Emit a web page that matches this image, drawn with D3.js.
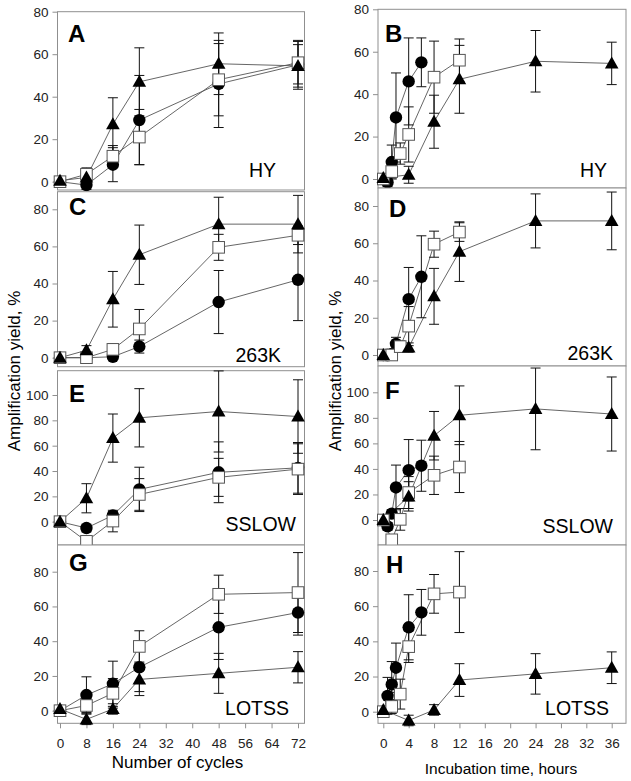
<!DOCTYPE html>
<html><head><meta charset="utf-8">
<script src="https://cdn.jsdelivr.net/npm/d3@7"></script>
<style>body{margin:0;background:#fff}svg{display:block}text{font-family:"Liberation Sans",Arial,sans-serif}</style>
</head><body><svg id="c" width="631" height="781"></svg>
<script>
// ---- data ----
const cycles = [0, 8, 16, 24, 48, 72];
const hoursCircle = [0, 0.67, 1.33, 2, 4, 6];
const hoursSquare = [0, 1.33, 2.67, 4, 8, 12];
const hoursTriangle = [0, 4, 8, 12, 24, 36];
const strainNames = ["HY", "263K", "SSLOW", "LOTSS"];
const leftLetters = ["A", "C", "E", "G"];
const rightLetters = ["B", "D", "F", "H"];

const hyCircle = [0, -1.6, 8, 29, 46, 55];
const hyCircleErr = [1.5, 2, 8, 21, 20.5, 11.5];
const hySquare = [0, 3.5, 12, 21, 48, 56];
const hySquareErr = [1.5, 3, 5, 13, 17, 10];
const hyTriangle = [0.5, 2, 27, 47, 55.5, 54.5];
const hyTriangleErr = [1, 4, 12.5, 16, 14.5, 10];

const k263Circle = [0, 0, 0.5, 6, 30, 42];
const k263CircleErr = [1, 1, 1.5, 3.5, 17, 22];
const k263Square = [0, 0, 4.5, 15.5, 59.5, 66];
const k263SquareErr = [1, 1.5, 3, 10.5, 7, 5];
const k263Triangle = [0, 4, 31.5, 55.5, 72, 72];
const k263TriangleErr = [1, 2.5, 15, 16, 14.5, 15.5];

const sslowCircle = [0, -5, 5, 25.5, 39, 42.5];
const sslowCircleErr = [1.5, 3, 3, 17.5, 24, 20];
const sslowSquare = [0, -15.5, 0.5, 21.5, 35, 41.5];
const sslowSquareErr = [1.5, 4, 8.5, 12.5, 15, 20];
const sslowTriangle = [0, 18.5, 66, 82, 87, 83];
const sslowTriangleErr = [1.5, 11.5, 19, 23, 32, 29];

const lotssCircle = [0, 9, 15.5, 25, 48, 56.5];
const lotssCircleErr = [1, 10.5, 13, 14, 18.5, 13];
const lotssSquare = [0, 3, 10, 37, 67, 68];
const lotssSquareErr = [1, 4, 8.5, 9, 11, 23];
const lotssTriangle = [1, -5, 1, 18, 21.5, 25];
const lotssTriangleErr = [1, 3, 3, 9.3, 11.5, 9];

const cycleTicks = [0, 8, 16, 24, 32, 40, 48, 56, 64, 72];
const hourTicks = [0, 4, 8, 12, 16, 20, 24, 28, 32, 36];
const yTicksRows = [[0, 20, 40, 60, 80], [0, 20, 40, 60, 80], [0, 20, 40, 60, 80, 100], [0, 20, 40, 60, 80]];

const rowData = [
  {c: hyCircle, ce: hyCircleErr, s: hySquare, se: hySquareErr, t: hyTriangle, te: hyTriangleErr},
  {c: k263Circle, ce: k263CircleErr, s: k263Square, se: k263SquareErr, t: k263Triangle, te: k263TriangleErr},
  {c: sslowCircle, ce: sslowCircleErr, s: sslowSquare, se: sslowSquareErr, t: sslowTriangle, te: sslowTriangleErr},
  {c: lotssCircle, ce: lotssCircleErr, s: lotssSquare, se: lotssSquareErr, t: lotssTriangle, te: lotssTriangleErr}
];

// ---- layout ----
const colL = {x0: 57.5, x1: 304.5, dom: [0, 72], rng: [60, 298]};
const colR = {x0: 378, x1: 626, dom: [0, 36], rng: [383.3, 611.7]};
const layout = [
  {L: {top: 11.7, bot: 190, dv: 80, y0: 181.7, yv: 11.7, lx: 68, ly: 41.7, nx: 276, ny: 177},
   R: {top: 9.3, bot: 188, dv: 80, y0: 179, yv: 9.3, lx: 385, ly: 41.7, nx: 607, ny: 177}},
  {L: {top: 191.7, bot: 366.7, dv: 80, y0: 357.7, yv: 209.3, lx: 69, ly: 214.5, nx: 281, ny: 361.7},
   R: {top: 188, bot: 366, dv: 80, y0: 355, yv: 206, lx: 389, ly: 216.7, nx: 613, ny: 360}},
  {L: {top: 370.7, bot: 545, dv: 100, y0: 521.7, yv: 395, lx: 69, ly: 402.3, nx: 296, ny: 530.7},
   R: {top: 366, bot: 545, dv: 100, y0: 520, yv: 392.3, lx: 385, ly: 399.3, nx: 613, ny: 533.3}},
  {L: {top: 545, bot: 723.3, dv: 80, y0: 710.7, yv: 571.7, lx: 69, ly: 571, nx: 289, ny: 715},
   R: {top: 545, bot: 723.3, dv: 80, y0: 711.7, yv: 571, lx: 386, ly: 573.3, nx: 609, ny: 715}}
];

const svg = d3.select("#c");
const frameCol = "#8f8f8f";
const lineCol = "#555";

function drawPanel(row, side) {
  const P = layout[row][side];
  const col = side === "L" ? colL : colR;
  const x = d3.scaleLinear().domain(col.dom).range(col.rng);
  const y = d3.scaleLinear().domain([0, P.dv]).range([P.y0, P.yv]);
  const g = svg.append("g");
  g.append("rect").attr("x", col.x0).attr("y", P.top).attr("width", col.x1 - col.x0).attr("height", P.bot - P.top)
    .attr("fill", "#fff").attr("stroke", frameCol).attr("stroke-width", 1);
  // y axis
  const yAxis = d3.axisLeft(y).tickValues(yTicksRows[row]).tickSize(5).tickPadding(4);
  const ya = g.append("g").attr("transform", `translate(${col.x0},0)`).call(yAxis);
  ya.select(".domain").remove();
  ya.selectAll("line").attr("stroke", frameCol);
  ya.selectAll("text").attr("font-size", 13.5).attr("fill", "#222").style("font-family", '"Liberation Sans",Arial,sans-serif');
  // x axis on bottom row
  if (row === 3) {
    const xAxis = d3.axisBottom(x).tickValues(side === "L" ? cycleTicks : hourTicks).tickSize(5).tickPadding(10);
    const xa = g.append("g").attr("transform", `translate(0,${P.bot})`).call(xAxis);
    xa.select(".domain").remove();
    xa.selectAll("line").attr("stroke", frameCol);
    xa.selectAll("text").attr("font-size", 13.5).attr("fill", "#222").style("font-family", '"Liberation Sans",Arial,sans-serif');
  }
  const D = rowData[row];
  const series = [
    {v: D.c, e: D.ce, xs: side === "L" ? cycles : hoursCircle, shape: "circle"},
    {v: D.s, e: D.se, xs: side === "L" ? cycles : hoursSquare, shape: "square"},
    {v: D.t, e: D.te, xs: side === "L" ? cycles : hoursTriangle, shape: "triangle"}
  ];
  // lines
  series.forEach(s => {
    const pts = s.v.map((v, i) => [s.xs[i], v]);
    g.append("path").datum(pts)
      .attr("d", d3.line().x(d => x(d[0])).y(d => y(d[1])))
      .attr("fill", "none").attr("stroke", lineCol).attr("stroke-width", 0.9);
  });
  // error bars
  series.forEach(s => {
    s.v.forEach((v, i) => {
      const cx = x(s.xs[i]), hi = y(v + s.e[i]), lo = y(v - s.e[i]);
      g.append("line").attr("x1", cx).attr("x2", cx).attr("y1", hi).attr("y2", lo).attr("stroke", "#111").attr("stroke-width", 1);
      [hi, lo].forEach(yy => g.append("line").attr("x1", cx - 5).attr("x2", cx + 5).attr("y1", yy).attr("y2", yy).attr("stroke", "#111").attr("stroke-width", 1));
    });
  });
  // markers
  series.forEach(s => {
    s.v.forEach((v, i) => {
      const cx = x(s.xs[i]), cy = y(v);
      if (s.shape === "circle") {
        g.append("circle").attr("cx", cx).attr("cy", cy).attr("r", 6.2).attr("fill", "#000");
      } else if (s.shape === "square") {
        g.append("rect").attr("x", cx - 5.8).attr("y", cy - 5.8).attr("width", 11.6).attr("height", 11.6)
          .attr("fill", "#fff").attr("stroke", "#555").attr("stroke-width", 1);
      } else {
        g.append("path").attr("d", `M${cx},${cy - 7}L${cx + 6.8},${cy + 5}L${cx - 6.8},${cy + 5}Z`).attr("fill", "#000");
      }
    });
  });
  // labels
  g.append("text").attr("x", P.lx).attr("y", P.ly).text(side === "L" ? leftLetters[row] : rightLetters[row])
    .attr("font-size", 24).attr("font-weight", "bold").attr("fill", "#000");
  g.append("text").attr("x", P.nx).attr("y", P.ny).attr("text-anchor", "end").text(strainNames[row])
    .attr("font-size", 19.5).attr("fill", "#000");
}

for (let r = 0; r < 4; r++) { drawPanel(r, "L"); drawPanel(r, "R"); }

svg.append("text").attr("x", 177.5).attr("y", 768).attr("text-anchor", "middle").attr("font-size", 17).text("Number of cycles");
svg.append("text").attr("x", 501).attr("y", 774).attr("text-anchor", "middle").attr("font-size", 15.5).text("Incubation time, hours");
svg.append("text").attr("transform", "translate(19.5,371) rotate(-90)").attr("text-anchor", "middle").attr("font-size", 17).text("Amplification yield, %");
svg.append("text").attr("transform", "translate(341,371) rotate(-90)").attr("text-anchor", "middle").attr("font-size", 17).text("Amplification yield, %");
</script></body></html>
